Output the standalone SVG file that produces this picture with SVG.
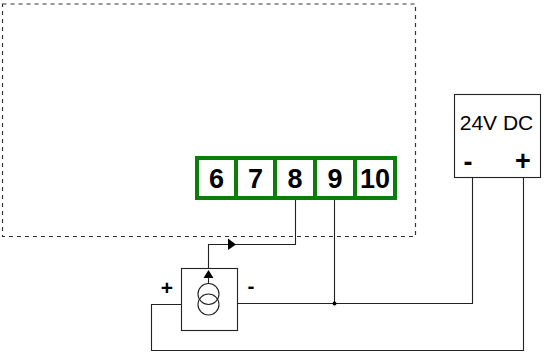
<svg xmlns="http://www.w3.org/2000/svg" width="546" height="352" viewBox="0 0 546 352">
<style>
.w{fill:none;stroke:#222;stroke-width:1.100}
.b{fill:#fff;stroke:#222;stroke-width:1.100}
.t{fill:#fff;stroke:#0a7d0a;stroke-width:4}
.n{font:bold 27px "Liberation Sans",Arial,sans-serif;fill:#000;text-anchor:middle}
.s{font:bold 21px "Liberation Sans",Arial,sans-serif;fill:#000;text-anchor:middle}
.l{font:bold 27px "Liberation Sans",Arial,sans-serif;fill:#000;text-anchor:middle}
</style>
<rect width="546" height="352" fill="#fff"/>
<g id="frame"><rect x="2.500" y="4" width="413" height="232.500" fill="none" stroke="#333" stroke-width="1.200" stroke-dasharray="4 4"/></g>
<g id="connectors">
<path class="w" d="M295.500 199V244.500H208.500V270"/>
<path class="w" d="M334.500 199V303.500"/>
<path class="w" d="M238 303.500H472.500V178"/>
<path class="w" d="M182 304.500H151.500V350.500H523.500V178"/>
<path d="M228 238.500L236 244.500L228 250Z" fill="#000"/>
<circle cx="334.500" cy="303.500" r="2" fill="#000"/>
</g>
<g id="t6"><rect class="t" x="197" y="158" width="39" height="40"/><text class="n" x="216.500" y="188">6</text></g>
<g id="t7"><rect class="t" x="236" y="158" width="39" height="40"/><text class="n" x="255.500" y="188">7</text></g>
<g id="t8"><rect class="t" x="275" y="158" width="40" height="40"/><text class="n" x="295" y="188">8</text></g>
<g id="t9"><rect class="t" x="315" y="158" width="40" height="40"/><text class="n" x="335" y="188">9</text></g>
<g id="t10"><rect class="t" x="355" y="158" width="40" height="40"/><text class="n" x="375" y="188">10</text></g>
<g id="source">
<rect class="b" x="181.500" y="268.500" width="56" height="62"/>
<path d="M208.500 270L213.500 278H203.500Z" fill="#000"/>
<path class="w" d="M208.500 277V284"/>
<circle class="w" cx="208.500" cy="294" r="10.500"/>
<circle class="w" cx="208.500" cy="304.500" r="10.500"/>
<text class="s" x="167" y="295">+</text>
<text class="s" x="251" y="293">-</text>
</g>
<g id="supply">
<rect class="b" x="454.500" y="94.500" width="86" height="83"/>
<text x="496.500" y="130" font-family="Liberation Sans,Arial,sans-serif" font-size="21" text-anchor="middle">24V DC</text>
<text class="l" x="468" y="171">-</text>
<text class="l" x="523" y="170">+</text>
</g>
</svg>
